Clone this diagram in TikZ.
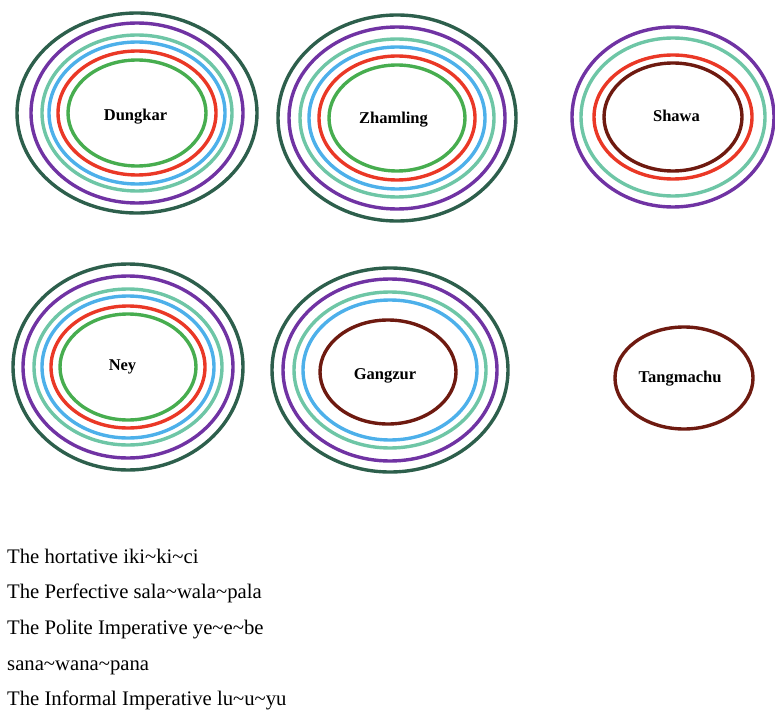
\documentclass[tikz,border=0pt]{standalone}
\usepackage{fontspec}
\setmainfont{Liberation Serif}
\definecolor{ringdark}{HTML}{2D5F4C}
\definecolor{ringpurple}{HTML}{7033A3}
\definecolor{ringmint}{HTML}{6EC6A6}
\definecolor{ringblue}{HTML}{4DB0EA}
\definecolor{ringred}{HTML}{EA3826}
\definecolor{ringgreen}{HTML}{47AD4F}
\definecolor{ringmaroon}{HTML}{6E1A10}
\tikzset{
  ring/.style={line width=3.4pt},
  place/.style={font=\fontsize{16.5}{18}\selectfont\bfseries, anchor=base, inner sep=0pt},
  gloss/.style={font=\fontsize{20.7}{24}\selectfont, anchor=base west, inner sep=0pt}
}
\begin{document}
\begin{tikzpicture}[x=1pt,y=-1pt]
\useasboundingbox (0,0) rectangle (775,711);

% Dungkar
\coordinate (cD) at (137,113);
\draw[ring,ringdark]   (cD) ellipse [x radius=120, y radius=100];
\draw[ring,ringpurple] (cD) ellipse [x radius=106, y radius=90];
\draw[ring,ringmint]   (cD) ellipse [x radius=95,  y radius=78];
\draw[ring,ringblue]   (cD) ellipse [x radius=88,  y radius=71];
\draw[ring,ringred]    (cD) ellipse [x radius=79,  y radius=62];
\draw[ring,ringgreen]  (cD) ellipse [x radius=69,  y radius=53];
\node[place] (dungkar) at (135.5,121) {Dungkar};

% Zhamling
\coordinate (cZ) at (397,118);
\draw[ring,ringdark]   (cZ) ellipse [x radius=119, y radius=103];
\draw[ring,ringpurple] (cZ) ellipse [x radius=108, y radius=91];
\draw[ring,ringmint]   (cZ) ellipse [x radius=97,  y radius=79];
\draw[ring,ringblue]   (cZ) ellipse [x radius=88,  y radius=71];
\draw[ring,ringred]    (cZ) ellipse [x radius=78,  y radius=62];
\draw[ring,ringgreen]  (cZ) ellipse [x radius=68,  y radius=53];
\node[place] (zhamling) at (393.5,124) {Zhamling};

% Shawa
\coordinate (cS) at (673,117);
\draw[ring,ringpurple] (cS) ellipse [x radius=101, y radius=90];
\draw[ring,ringmint]   (cS) ellipse [x radius=92,  y radius=79];
\draw[ring,ringred]    (cS) ellipse [x radius=79,  y radius=62];
\draw[ring,ringmaroon] (cS) ellipse [x radius=69,  y radius=54];
\node[place] (shawa) at (676.5,122) {Shawa};

% Ney
\coordinate (cN) at (128,367);
\draw[ring,ringdark]   (cN) ellipse [x radius=115, y radius=103];
\draw[ring,ringpurple] (cN) ellipse [x radius=105, y radius=91];
\draw[ring,ringmint]   (cN) ellipse [x radius=94,  y radius=78];
\draw[ring,ringblue]   (cN) ellipse [x radius=86,  y radius=71];
\draw[ring,ringred]    (cN) ellipse [x radius=77,  y radius=61];
\draw[ring,ringgreen]  (cN) ellipse [x radius=68,  y radius=53];
\node[place] (ney) at (122.5,370) {Ney};

% Gangzur
\coordinate (cG) at (390,370);
\draw[ring,ringdark]   (cG) ellipse [x radius=118, y radius=102];
\draw[ring,ringpurple] (cG) ellipse [x radius=107, y radius=91];
\draw[ring,ringmint]   (cG) ellipse [x radius=96,  y radius=78];
\draw[ring,ringblue]   (cG) ellipse [x radius=87,  y radius=70];
\draw[ring,ringmaroon] (388,372) ellipse [x radius=68, y radius=52];
\node[place] (gangzur) at (385,379) {Gangzur};

% Tangmachu
\coordinate (cT) at (684,378);
\draw[ring,ringmaroon] (cT) ellipse [x radius=69, y radius=51];
\node[place] (tangmachu) at (680,382) {Tangmachu};

% Gloss lines
\node[gloss] (g1) at (7,563) {The hortative iki\textasciitilde ki\textasciitilde ci};
\node[gloss] (g2) at (7,598) {The Perfective sala\textasciitilde wala\textasciitilde pala};
\node[gloss] (g3) at (7,634) {The Polite Imperative ye\textasciitilde e\textasciitilde be};
\node[gloss] (g4) at (7,670) {sana\textasciitilde wana\textasciitilde pana};
\node[gloss] (g5) at (7,705) {The Informal Imperative lu\textasciitilde u\textasciitilde yu};
\end{tikzpicture}
\end{document}
